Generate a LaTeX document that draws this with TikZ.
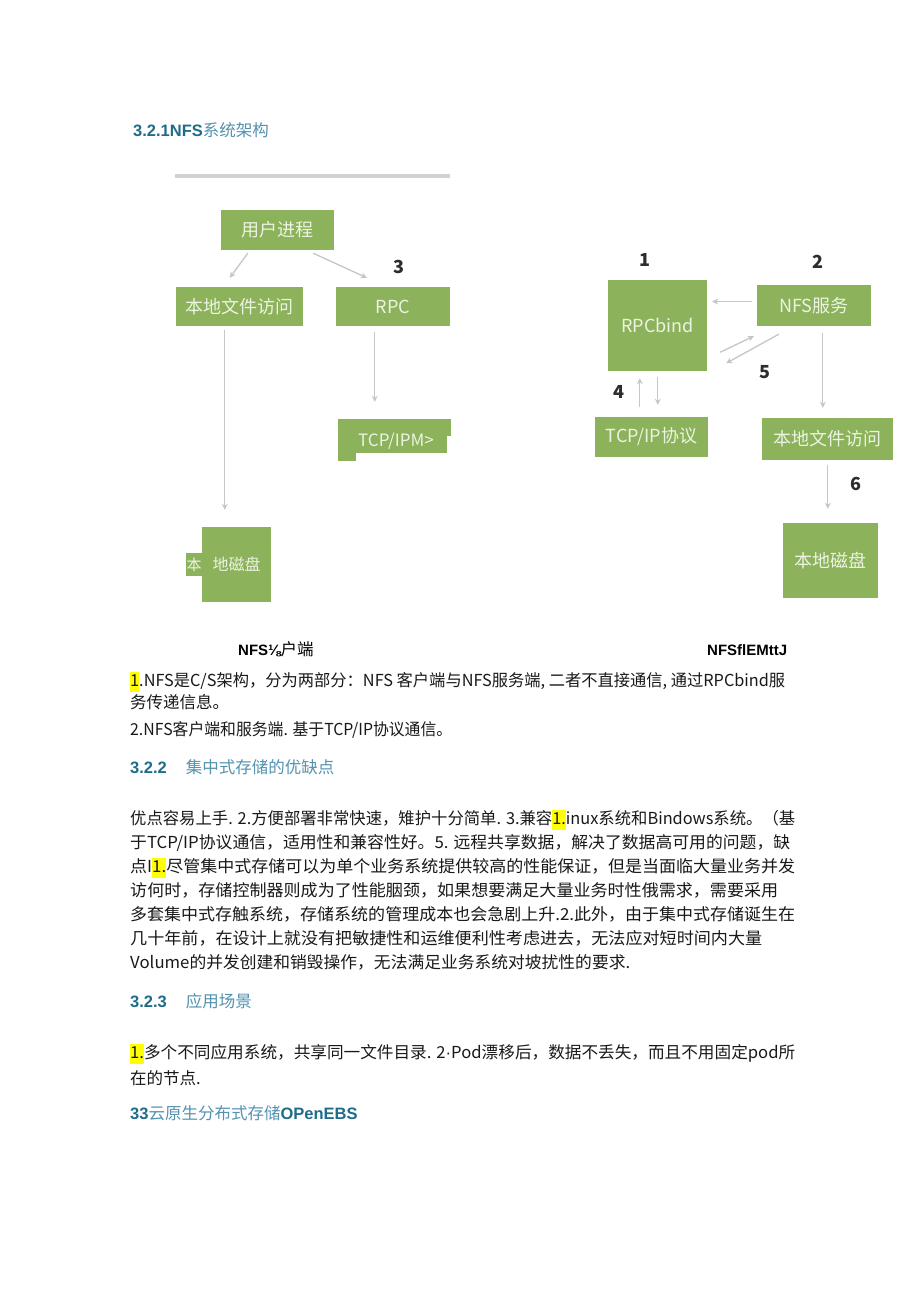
\documentclass[tikz,border=0pt]{standalone}
\usepackage{fontspec}
\usepackage{graphicx}
\usetikzlibrary{arrows.meta,calc}
\setmainfont{Noto Sans CJK SC}
\newfontfamily\arialf{Liberation Sans}
\definecolor{boxgreen}{RGB}{140,179,91}
\definecolor{boxtext}{RGB}{236,243,226}
\definecolor{arrgray}{RGB}{198,198,198}
\definecolor{tealA}{RGB}{31,108,138}
\definecolor{tealB}{RGB}{84,146,176}
\definecolor{numgray}{RGB}{45,45,45}
\definecolor{hly}{RGB}{255,255,0}
\definecolor{bodytext}{RGB}{25,25,25}
\newcommand{\fitw}[2]{\resizebox{#1pt}{\height}{#2}}
\newcommand{\hlt}[1]{{\setlength{\fboxsep}{0pt}\colorbox{hly}{\strut#1}}}
\begin{document}
\begin{tikzpicture}[x=1pt,y=-1pt,
  box/.style={fill=boxgreen, text=boxtext, inner sep=0pt, draw=none, font=\fontsize{18}{20}\selectfont},
  arr/.style={draw=arrgray, line width=1.3pt, -{Stealth[length=6pt,width=6pt]}},
  num/.style={text=numgray, inner sep=0pt, font=\fontsize{18}{20}\selectfont\bfseries},
  txt/.style={anchor=base west, inner sep=0pt, text=bodytext, font=\fontsize{16.5}{20}\selectfont},
  hd/.style={anchor=base west, inner sep=0pt, font=\fontsize{16.5}{20}\selectfont}]
\useasboundingbox (0,0) rectangle (920,1301);
\fill[white] (0,0) rectangle (920,1301);

% title
\node[hd] (title) at (133,136) {{\arialf\bfseries\color{tealA}3.2.1NFS}{\color{tealB}系统架构}};

% ---------- left diagram ----------
\fill[arrgray!80] (175,174) rectangle (450,178);
\node[box, minimum width=113pt, minimum height=40pt] (user) at (277.5,230) {用户进程};
\node[box, minimum width=127pt, minimum height=39pt] (lfaL) at (239.5,306.5) {本地文件访问};
\node[box, minimum width=114pt, minimum height=39pt] (rpcL) at (393,306.5) {RPC};
\node[box, minimum width=109pt, minimum height=34pt] (tcpL) at (392.5,436) {};
\fill[boxgreen] (tcpL.north east) rectangle ++(4,17);
\fill[boxgreen] (tcpL.south west) rectangle ++(18,8);
\node[inner sep=0pt, text=boxtext, font=\fontsize{17}{20}\selectfont] (tcpLt) at (396,441) {TCP/IPM>};
\node[box, minimum width=69pt, minimum height=75pt, font=\fontsize{16}{20}\selectfont] (diskL) at (236.5,564.5) {地磁盘};
\node[box, minimum width=16pt, minimum height=23pt, font=\fontsize{15}{18}\selectfont] (tabL) at (194,564.5) {本};
\node[num] (n3) at (399,267) {3};

\draw[arr] ($(user.south west)+(27,3)$) -- ($(lfaL.north west)+(54,-9)$);
\draw[arr] ($(user.south east)+(-21,3)$) -- ($(rpcL.north west)+(31,-9)$);
\draw[arr] ($(rpcL.south west)+(39,6)$) -- ($(tcpL.north west)+(37,-17)$);
\draw[arr] ($(lfaL.south west)+(49,4)$) -- ($(diskL.north west)+(23,-17)$);

% ---------- right diagram ----------
\node[box, minimum width=99pt, minimum height=91pt] (rpcb) at (657.5,325.5) {RPCbind};
\node[box, minimum width=114pt, minimum height=41pt] (nfs) at (814,305.5) {NFS服务};
\node[box, minimum width=113pt, minimum height=40pt] (tcpR) at (651.5,437) {TCP/IP协议};
\node[box, minimum width=131pt, minimum height=42pt] (lfaR) at (827.5,439) {本地文件访问};
\node[box, minimum width=95pt, minimum height=75pt] (diskR) at (830.5,560.5) {本地磁盘};
\node[num] (n1) at (645,260) {1};
\node[num] (n2) at (818,262) {2};
\node[num] (n4) at (619,392) {4};
\node[num] (n5) at (765,372) {5};
\node[num] (n6) at (856,484) {6};

\draw[arr] ($(nfs.west)+(-5,-4)$) -- ($(rpcb.east)+(5,-24)$);
\draw[arr] ($(rpcb.south east)+(13,-19)$) -- ($(nfs.south west)+(-3,10)$);
\draw[arr] ($(nfs.south west)+(22,8)$) -- ($(rpcb.south east)+(19,-8)$);
\draw[arr] ($(nfs.south west)+(66,7)$) -- ($(lfaR.north west)+(61,-10)$);
\draw[arr] ($(tcpR.north west)+(45,-10)$) -- ($(rpcb.south west)+(32,7)$);
\draw[arr] ($(rpcb.south west)+(50,6)$) -- ($(tcpR.north west)+(63,-12)$);
\draw[arr] ($(lfaR.south west)+(66,5)$) -- ($(diskR.north west)+(45,-14)$);

% captions
\node[hd] (capL) at (238,655) {{\arialf\bfseries\fontsize{15}{18}\selectfont NFS⅛}户端};
\node[hd] (capR) at (707,655) {{\arialf\bfseries\fontsize{15}{18}\selectfont NFSflEMttJ}};

% ---------- text ----------
\node[txt] (pA1) at (130,686) {\fitw{655}{\hlt{1}.NFS是C/S架构，分为两部分：NFS 客户端与NFS服务端, 二者不直接通信, 通过RPCbind服}};
\node[txt] (pA2) at (130,708) {务传递信息。};
\node[txt] (pA3) at (130,735) {\fitw{322}{2.NFS客户端和服务端. 基于TCP/IP协议通信。}};

\node[hd] (h2) at (130,773) {{\arialf\bfseries\color{tealA}3.2.2}\hspace{19pt}{\color{tealB}集中式存储的优缺点}};

\node[txt] (q1) at (130,824) {\fitw{665}{优点容易上手. 2.方便部署非常快速，雉护十分简单. 3.兼容\hlt{1.}inux系统和Bindows系统。（基}};
\node[txt] (q2) at (130,848) {\fitw{660}{于TCP/IP协议通信，适用性和兼容性好。5. 远程共享数据，解决了数据高可用的问题，缺}};
\node[txt] (q3) at (130,872) {\fitw{665}{点I\hlt{1.}尽管集中式存储可以为单个业务系统提供较高的性能保证，但是当面临大量业务并发}};
\node[txt] (q4) at (130,896) {\fitw{648}{访何时，存储控制器则成为了性能胭颈，如果想要满足大量业务时性俄需求，需要采用}};
\node[txt] (q5) at (130,920) {\fitw{665}{多套集中式存触系统，存储系统的管理成本也会急剧上升.2.此外，由于集中式存储诞生在}};
\node[txt] (q6) at (130,944) {\fitw{632}{几十年前，在设计上就没有把敏捷性和运维便利性考虑进去，无法应对短时间内大量}};
\node[txt] (q7) at (130,968) {\fitw{500}{Volume的并发创建和销毁操作，无法满足业务系统对坡扰性的要求.}};

\node[hd] (h3) at (130,1007) {{\arialf\bfseries\color{tealA}3.2.3}\hspace{19pt}{\color{tealB}应用场景}};

\node[txt] (r1) at (130,1058) {\fitw{665}{\hlt{1.}多个不同应用系统，共享同一文件目录. 2{\arialf ·}Pod漂移后，数据不丢失，而且不用固定pod所}};
\node[txt] (r2) at (130,1084) {在的节点.};

\node[hd] (h4) at (130,1119) {{\arialf\bfseries\color{tealA}33}{\color{tealB}云原生分布式存储}{\arialf\bfseries\color{tealA}OPenEBS}};
\end{tikzpicture}
\end{document}
